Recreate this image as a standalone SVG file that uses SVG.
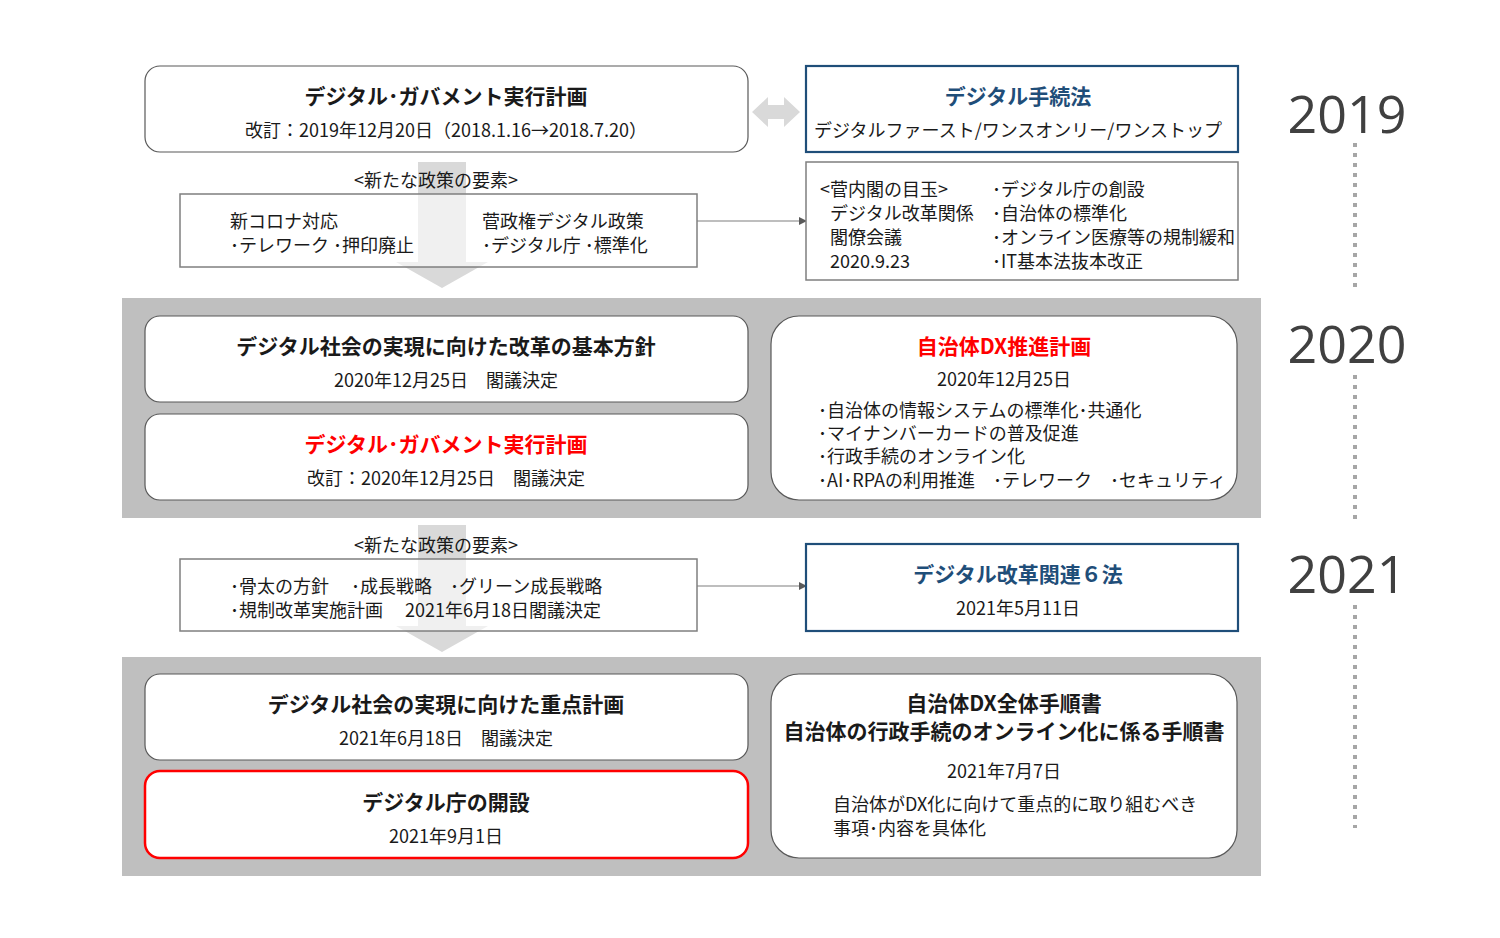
<svg xmlns="http://www.w3.org/2000/svg" width="1500" height="938" viewBox="0 0 1500 938">
<style>
text{font-family:"Noto Sans CJK JP","Noto Sans",sans-serif;fill:#1a1a1a;font-size:18px}
.c{text-anchor:middle}
.t{font-weight:bold;font-size:21px}
.red{fill:#FF0000}
.blu{fill:#1F4E79}
.rb{fill:#fff;stroke:#595959;stroke-width:1.2}
.sq{fill:#fff;stroke:#7f7f7f;stroke-width:1.5}
.bb{fill:#fff;stroke:#1F4E79;stroke-width:2.2}
.yr{font-family:"Open Sans","Liberation Sans",sans-serif;font-size:52px;fill:#404040}
.dot{stroke:#a6a6a6;stroke-width:4;stroke-dasharray:4 6}
</style>
<defs><marker id="ah" markerWidth="8" markerHeight="8" refX="7" refY="4" orient="auto" markerUnits="userSpaceOnUse"><path d="M0,0 L8,4 L0,8 Z" fill="#595959"/></marker></defs>
<rect width="1500" height="938" fill="#fff"/>
<rect x="122" y="298" width="1139" height="220" fill="#BFBFBF"/>
<rect x="122" y="657" width="1139" height="219" fill="#BFBFBF"/>
<g id="years">
<text class="yr c" x="1347" y="133">2019</text>
<text class="yr c" x="1347" y="363">2020</text>
<text class="yr c" x="1347" y="593">2021</text>
<line class="dot" x1="1355" y1="143" x2="1355" y2="292"/>
<line class="dot" x1="1355" y1="375" x2="1355" y2="525"/>
<line class="dot" x1="1355" y1="605" x2="1355" y2="828"/>
</g>
<g id="connectors">
<path d="M418,162 H466 V262 H488 L442,288 L396,262 H418 Z" fill="#D9D9D9"/>
<path d="M418,525 H466 V626 H488 L442,652 L396,626 H418 Z" fill="#D9D9D9"/>
<path d="M752,112 L768,97 V105 H784 V97 L800,112 L784,127 V119 H768 V127 Z" fill="#D9D9D9"/>
<line x1="697" y1="221" x2="806" y2="221" stroke="#7f7f7f" stroke-width="1.2" marker-end="url(#ah)"/>
<line x1="697" y1="586" x2="806" y2="586" stroke="#7f7f7f" stroke-width="1.2" marker-end="url(#ah)"/>
</g>
<g id="n1"><rect class="rb" x="145" y="66" width="603" height="86" rx="15"/>
<text class="c t" x="446" y="104">デジタル･ガバメント実行計画</text>
<text class="c" x="446" y="137">改訂：2019年12月20日（2018.1.16→2018.7.20）</text></g>
<g id="n2"><rect class="bb" x="806" y="66" width="432" height="86"/>
<text class="c t blu" x="1018" y="104">デジタル手続法</text>
<text class="c" x="1018" y="137">デジタルファースト/ワンスオンリー/ワンストップ</text></g>
<g id="n3"><text class="c" x="436" y="187">&lt;新たな政策の要素&gt;</text>
<rect class="sq" x="180" y="194" width="517" height="73" fill-opacity="0.6"/>
<text x="230" y="228">新コロナ対応</text><text x="230" y="252">･テレワーク  ･押印廃止</text>
<text x="482" y="228">菅政権デジタル政策</text><text x="482" y="252">･デジタル庁  ･標準化</text></g>
<g id="n4"><rect class="sq" x="806" y="162" width="432" height="118"/>
<text x="820" y="196">&lt;菅内閣の目玉&gt;</text><text x="830" y="220">デジタル改革関係</text><text x="830" y="244">閣僚会議</text><text x="830" y="268">2020.9.23</text>
<text x="992" y="196">･デジタル庁の創設</text><text x="992" y="220">･自治体の標準化</text><text x="992" y="244">･オンライン医療等の規制緩和</text><text x="992" y="268">･IT基本法抜本改正</text></g>
<g id="n5"><rect class="rb" x="145" y="316" width="603" height="86" rx="15"/>
<text class="c t" x="446" y="354">デジタル社会の実現に向けた改革の基本方針</text>
<text class="c" x="446" y="387">2020年12月25日　閣議決定</text></g>
<g id="n6"><rect class="rb" x="145" y="414" width="603" height="86" rx="15"/>
<text class="c t red" x="446" y="452">デジタル･ガバメント実行計画</text>
<text class="c" x="446" y="485">改訂：2020年12月25日　閣議決定</text></g>
<g id="n7"><rect class="rb" x="771" y="316" width="466" height="184" rx="28"/>
<text class="c t red" x="1004" y="354">自治体DX推進計画</text>
<text class="c" x="1004" y="386">2020年12月25日</text>
<text x="818" y="417">･自治体の情報システムの標準化･共通化</text>
<text x="818" y="440">･マイナンバーカードの普及促進</text>
<text x="818" y="463">･行政手続のオンライン化</text>
<text x="818" y="487">･AI･RPAの利用推進　･テレワーク　･セキュリティ</text></g>
<g id="n8"><text class="c" x="436" y="552">&lt;新たな政策の要素&gt;</text>
<rect class="sq" x="180" y="559" width="517" height="72" fill-opacity="0.6"/>
<text x="230" y="593">･骨太の方針　 ･成長戦略　･グリーン成長戦略</text>
<text x="230" y="617">･規制改革実施計画　 2021年6月18日閣議決定</text></g>
<g id="n9"><rect class="bb" x="806" y="544" width="432" height="87"/>
<text class="c t blu" x="1018" y="582">デジタル改革関連６法</text>
<text class="c" x="1018" y="615">2021年5月11日</text></g>
<g id="n10"><rect class="rb" x="145" y="674" width="603" height="86" rx="15"/>
<text class="c t" x="446" y="712">デジタル社会の実現に向けた重点計画</text>
<text class="c" x="446" y="745">2021年6月18日　閣議決定</text></g>
<g id="n11"><rect x="145" y="771" width="603" height="87" rx="15" fill="#fff" stroke="#FF0000" stroke-width="2.5"/>
<text class="c t" x="446" y="810">デジタル庁の開設</text>
<text class="c" x="446" y="843">2021年9月1日</text></g>
<g id="n12"><rect class="rb" x="771" y="674" width="466" height="184" rx="28"/>
<text class="c t" x="1004" y="711">自治体DX全体手順書</text>
<text class="c t" x="1004" y="739">自治体の行政手続のオンライン化に係る手順書</text>
<text class="c" x="1004" y="778">2021年7月7日</text>
<text x="833" y="811">自治体がDX化に向けて重点的に取り組むべき</text>
<text x="833" y="835">事項･内容を具体化</text></g>
</svg>
